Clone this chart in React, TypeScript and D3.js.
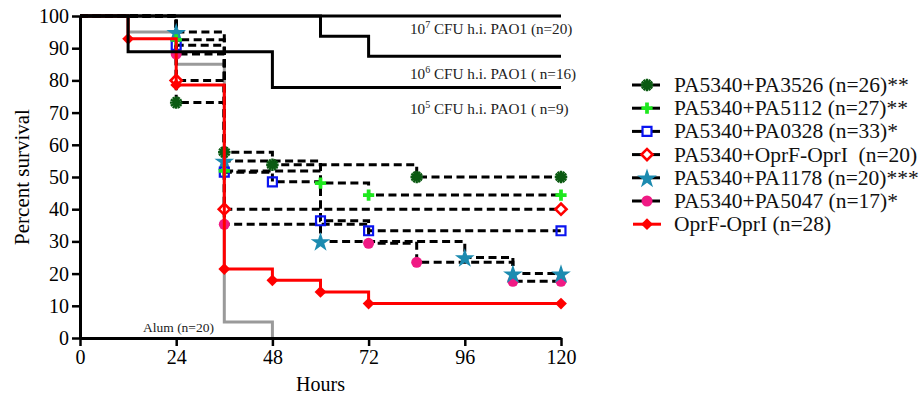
import React, { useEffect, useRef } from 'react';
import * as d3 from 'd3';

// hours on the x axis, percent survival on the y axis
const xTicks = [0, 24, 48, 72, 96, 120];
const yTicks = [0, 10, 20, 30, 40, 50, 60, 70, 80, 90, 100];

// Kaplan-Meier steps (time, survival)
const pa3526Time = [0, 24, 36, 48, 84, 120];
const pa3526Surv = [100, 73.1, 57.7, 53.8, 50, 50];
const pa5112Time = [0, 24, 36, 60, 72, 120];
const pa5112Surv = [100, 92.6, 51.9, 48.1, 44.4, 44.4];
const pa0328Time = [0, 24, 36, 48, 60, 72, 120];
const pa0328Surv = [100, 90.9, 51.5, 48.5, 36.4, 33.3, 33.3];
const paOprfTime = [0, 24, 36, 120];
const paOprfSurv = [100, 80, 40, 40];
const pa1178Time = [0, 24, 36, 60, 96, 108, 120];
const pa1178Surv = [100, 95, 55, 30, 25, 20, 20];
const pa5047Time = [0, 24, 36, 72, 84, 108, 120];
const pa5047Surv = [100, 88.2, 35.3, 29.4, 23.5, 17.6, 17.6];
const oprfTime = [0, 12, 24, 36, 48, 60, 72, 120];
const oprfSurv = [100, 92.9, 78.6, 21.4, 17.9, 14.3, 10.7, 10.7];
const alumTime = [0, 12, 24, 36, 48];
const alumSurv = [100, 95, 85, 5, 0];
const hi7Time = [0, 120];
const hi7Surv = [100, 100];
const hi6Time = [0, 60, 72, 120];
const hi6Surv = [100, 93.75, 87.5, 87.5];
const hi5Time = [0, 12, 48, 120];
const hi5Surv = [100, 88.9, 77.8, 77.8];

const legendNames = [
  'PA5340+PA3526 (n=26)**',
  'PA5340+PA5112 (n=27)**',
  'PA5340+PA0328 (n=33)*',
  'PA5340+OprF-OprI  (n=20)',
  'PA5340+PA1178 (n=20)***',
  'PA5340+PA5047 (n=17)*',
  'OprF-OprI (n=28)',
];

const FONT = '"Liberation Serif", "Times New Roman", serif';

type Series = { name: string; t: number[]; s: number[]; marker: string; color: string; dashed: boolean };

const zip = (t: number[], s: number[]) => t.map((v, i) => [v, s[i]] as [number, number]);

function App() {
  const ref = useRef<SVGSVGElement>(null);

  useEffect(() => {
    drawChart();
  });

  function drawChart() {
    const width = 921;
    const height = 398;
    const svg = d3.select(ref.current);
    svg.selectAll('*').remove();
    svg.attr('width', width).attr('height', height).style('background', 'white');

    const x = d3.scaleLinear().domain([0, 120]).range([80, 561]);
    const y = d3.scaleLinear().domain([0, 100]).range([338, 16]);

    const series: Series[] = [
      { name: legendNames[0], t: pa3526Time, s: pa3526Surv, marker: 'asterisk', color: '#0b5a12', dashed: true },
      { name: legendNames[1], t: pa5112Time, s: pa5112Surv, marker: 'plus', color: '#1ee81e', dashed: true },
      { name: legendNames[2], t: pa0328Time, s: pa0328Surv, marker: 'square', color: '#0a14f0', dashed: true },
      { name: legendNames[3], t: paOprfTime, s: paOprfSurv, marker: 'diamondOpen', color: '#ff0000', dashed: true },
      { name: legendNames[4], t: pa1178Time, s: pa1178Surv, marker: 'star', color: '#1c8bb0', dashed: true },
      { name: legendNames[5], t: pa5047Time, s: pa5047Surv, marker: 'circle', color: '#f01a84', dashed: true },
      { name: legendNames[6], t: oprfTime, s: oprfSurv, marker: 'diamond', color: '#ff0000', dashed: false },
    ];

    const line = d3.line<[number, number]>()
      .x((d) => x(d[0]))
      .y((d) => y(d[1]))
      .curve(d3.curveStepAfter);

    function drawMarker(g: any, kind: string, color: string, cx: number, cy: number) {
      const m = g.append('g').attr('transform', `translate(${cx},${cy})`);
      if (kind === 'asterisk') {
        const ast = d3.symbol().type(d3.symbolAsterisk).size(110)();
        m.append('path').attr('d', ast).attr('stroke', color).attr('stroke-width', 2.4).attr('fill', 'none');
        m.append('path').attr('d', ast).attr('transform', 'rotate(30)').attr('stroke', color).attr('stroke-width', 2.4).attr('fill', 'none');
        m.append('circle').attr('r', 2.6).attr('fill', color);
      } else if (kind === 'plus') {
        m.append('path').attr('d', d3.symbol().type(d3.symbolCross).size(70)()).attr('fill', color);
      } else if (kind === 'square') {
        m.append('path').attr('d', d3.symbol().type(d3.symbolSquare).size(80)()).attr('fill', 'none').attr('stroke', color).attr('stroke-width', 2.2);
      } else if (kind === 'diamondOpen') {
        m.append('path').attr('d', d3.symbol().type(d3.symbolSquare).size(62)()).attr('transform', 'rotate(45)').attr('fill', 'white').attr('stroke', color).attr('stroke-width', 2.6);
      } else if (kind === 'star') {
        m.append('path').attr('d', d3.symbol().type(d3.symbolStar).size(120)()).attr('transform', 'translate(0,1)').attr('fill', color);
      } else if (kind === 'circle') {
        m.append('path').attr('d', d3.symbol().type(d3.symbolCircle).size(95)()).attr('fill', color);
      } else if (kind === 'diamond') {
        m.append('path').attr('d', d3.symbol().type(d3.symbolSquare).size(70)()).attr('transform', 'rotate(45)').attr('fill', color);
      }
    }

    // Alum control (grey)
    svg.append('path')
      .datum(zip(alumTime, alumSurv))
      .attr('d', line)
      .attr('fill', 'none')
      .attr('stroke', '#9a9a9a')
      .attr('stroke-width', 3);

    // dashed vaccine curves
    const dashed = series.filter((d) => d.dashed);
    dashed.slice().reverse().forEach((d) => {
      svg.append('path')
        .datum(zip(d.t, d.s))
        .attr('d', line)
        .attr('fill', 'none')
        .attr('stroke', 'black')
        .attr('stroke-width', 3)
        .attr('stroke-dasharray', '8,4.5');
    });
    const markerG = svg.append('g');
    dashed.slice().reverse().forEach((d) => {
      zip(d.t, d.s).slice(1).forEach((p) => drawMarker(markerG, d.marker, d.color, x(p[0]), y(p[1])));
    });

    // OprF-OprI solid red
    const red = series[6];
    svg.append('path')
      .datum(zip(red.t, red.s))
      .attr('d', line)
      .attr('fill', 'none')
      .attr('stroke', red.color)
      .attr('stroke-width', 3);
    const redG = svg.append('g');
    zip(red.t, red.s).slice(1).forEach((p) => drawMarker(redG, red.marker, red.color, x(p[0]), y(p[1])));

    // heat-inactivated PAO1 controls
    [[hi5Time, hi5Surv], [hi6Time, hi6Surv], [hi7Time, hi7Surv]].forEach(([t, s]) => {
      svg.append('path')
        .datum(zip(t, s))
        .attr('d', line)
        .attr('fill', 'none')
        .attr('stroke', 'black')
        .attr('stroke-width', 3);
    });

    // annotations
    const notes = [
      { exp: '7', rest: ' CFU h.i. PAO1 (n=20)', yy: 34 },
      { exp: '6', rest: ' CFU h.i. PAO1 ( n=16)', yy: 79 },
      { exp: '5', rest: ' CFU h.i. PAO1 ( n=9)', yy: 114 },
    ];
    notes.forEach((n) => {
      const t = svg.append('text')
        .attr('x', 410)
        .attr('y', n.yy)
        .style('font-family', FONT)
        .style('font-size', '15.2px')
        .style('white-space', 'pre')
        .attr('fill', '#222');
      t.append('tspan').text('10');
      t.append('tspan').attr('dy', -6).style('font-size', '10px').text(n.exp);
      t.append('tspan').attr('dy', 6).text(n.rest);
    });
    svg.append('text')
      .attr('x', 143)
      .attr('y', 332)
      .style('font-family', FONT)
      .style('font-size', '13.5px')
      .attr('fill', '#222')
      .text('Alum (n=20)');

    // axes
    const yAxis = svg.append('g')
      .attr('transform', `translate(${x(0)},0)`)
      .call(d3.axisLeft(y).tickValues(yTicks).tickSize(8).tickSizeOuter(0).tickPadding(3));
    const xAxis = svg.append('g')
      .attr('transform', `translate(0,${y(0)})`)
      .call(d3.axisBottom(x).tickValues(xTicks).tickSize(8).tickSizeOuter(0).tickPadding(4));
    [yAxis, xAxis].forEach((g) => {
      g.select('.domain').attr('stroke', 'black').attr('stroke-width', 3);
      g.selectAll('.tick line').attr('stroke', 'black').attr('stroke-width', 2.5);
      g.selectAll('.tick text')
        .attr('fill', 'black')
        .style('font-family', FONT)
        .style('font-size', '20px');
    });

    svg.append('text')
      .attr('transform', `translate(29,${(y(0) + y(100)) / 2}) rotate(-90)`)
      .attr('text-anchor', 'middle')
      .style('font-family', FONT)
      .style('font-size', '21px')
      .text('Percent survival');
    svg.append('text')
      .attr('x', (x(0) + x(120)) / 2)
      .attr('y', 391)
      .attr('text-anchor', 'middle')
      .style('font-family', FONT)
      .style('font-size', '20px')
      .text('Hours');

    // legend
    const legend = svg.append('g');
    series.forEach((d, i) => {
      const ly = 85 + i * 23.2;
      const row = legend.append('g');
      if (d.dashed) {
        row.append('line').attr('x1', 632).attr('x2', 642).attr('y1', ly).attr('y2', ly).attr('stroke', 'black').attr('stroke-width', 3);
        row.append('line').attr('x1', 651).attr('x2', 660).attr('y1', ly).attr('y2', ly).attr('stroke', 'black').attr('stroke-width', 3);
      } else {
        row.append('line').attr('x1', 633).attr('x2', 661).attr('y1', ly).attr('y2', ly).attr('stroke', d.color).attr('stroke-width', 3);
      }
      drawMarker(row, d.marker, d.color, 647, ly);
      row.append('text')
        .attr('x', 674)
        .attr('y', ly + 7)
        .style('font-family', FONT)
        .style('font-size', '21.5px')
        .style('white-space', 'pre')
        .attr('fill', '#111')
        .text(d.name);
    });
  }

  return (
    <svg ref={ref} style={{ position: 'absolute', left: 0, top: 0 }} />
  );
}

export default App;
